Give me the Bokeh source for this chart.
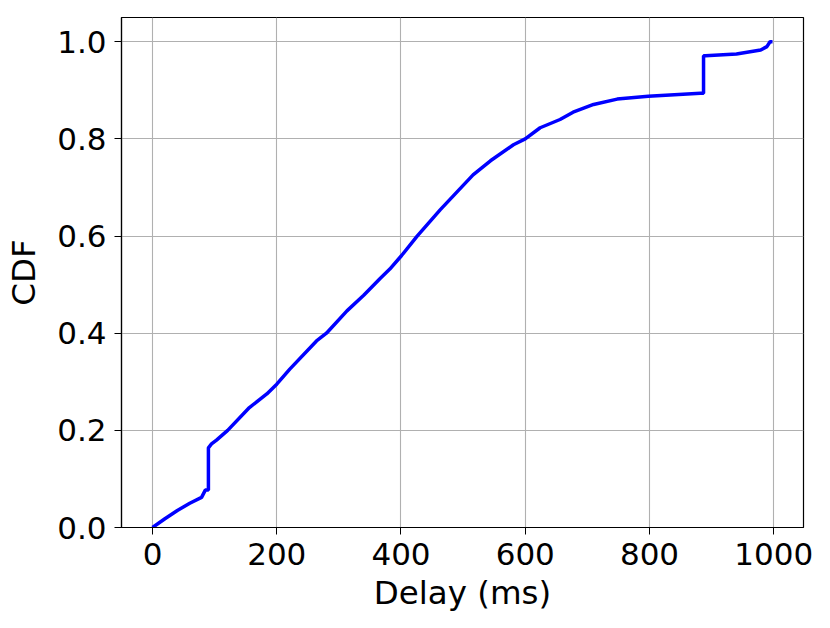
from bokeh.plotting import figure
from bokeh.models import Range1d, FixedTicker
from bokeh.embed import file_html
from bokeh.resources import INLINE

delay_ms = [0, 20, 40, 60, 79, 85, 90, 90, 95, 103, 121, 156, 184, 200, 221,
            264, 280, 313, 340, 366, 382, 401, 426, 463, 516, 544, 581, 600, 624,
            656, 677, 710, 748, 798, 840, 882, 887, 887, 890, 940, 979, 989, 994, 998]
cdf = [0.0, 0.018, 0.035, 0.05, 0.062, 0.077, 0.077, 0.164, 0.172, 0.18, 0.2,
       0.247, 0.275, 0.295, 0.326, 0.384, 0.4, 0.446, 0.478, 0.512, 0.532, 0.56, 0.6,
       0.654, 0.726, 0.755, 0.788, 0.8, 0.823, 0.840, 0.855, 0.871, 0.882, 0.888,
       0.891, 0.894, 0.894, 0.971, 0.971, 0.975, 0.983, 0.99, 1.0, 1.0]

x_ticks = [0, 200, 400, 600, 800, 1000]
y_ticks = [0.0, 0.2, 0.4, 0.6, 0.8, 1.0]
y_tick_labels = {0.0: "0.0", 0.2: "0.2", 0.4: "0.4", 0.6: "0.6", 0.8: "0.8", 1.0: "1.0"}

FONT = "DejaVu Sans"
TICK_FS = "31px"
LABEL_FS = "32.5px"

p = figure(width=822, height=620,
           x_range=Range1d(-49.9, 1047.9), y_range=Range1d(0, 1.05),
           output_backend="svg", toolbar_location=None,
           min_border_left=121, min_border_right=19,
           min_border_top=17, min_border_bottom=93)

p.line(delay_ms, cdf, line_color="#0000ff", line_width=3.5)

p.xaxis.ticker = FixedTicker(ticks=x_ticks)
p.yaxis.ticker = FixedTicker(ticks=y_ticks)
p.yaxis.major_label_overrides = y_tick_labels
p.xaxis.axis_label = "Delay (ms)"
p.yaxis.axis_label = "CDF"

for ax in (p.xaxis, p.yaxis):
    ax.axis_label_text_font = FONT
    ax.axis_label_text_font_size = LABEL_FS
    ax.axis_label_text_font_style = "normal"
    ax.axis_label_text_color = "black"
    ax.major_label_text_font = FONT
    ax.major_label_text_font_size = TICK_FS
    ax.major_label_text_color = "black"
    ax.major_tick_out = 7
    ax.major_tick_in = 0
    ax.minor_tick_out = 0
    ax.minor_tick_in = 0
    ax.major_tick_line_color = "black"
    ax.axis_line_color = "black"
    ax.axis_line_width = 1.2

p.xaxis.major_label_standoff = 8
p.xaxis.axis_label_standoff = 6
p.yaxis.major_label_standoff = 8
p.yaxis.axis_label_standoff = 11

p.xgrid.grid_line_color = "#b0b0b0"
p.ygrid.grid_line_color = "#b0b0b0"
p.xgrid.grid_line_width = 1.1
p.ygrid.grid_line_width = 1.1

p.outline_line_color = "black"
p.outline_line_width = 1.2
p.outline_line_alpha = 1.0

open("out.html", "w").write(file_html(p, INLINE))
